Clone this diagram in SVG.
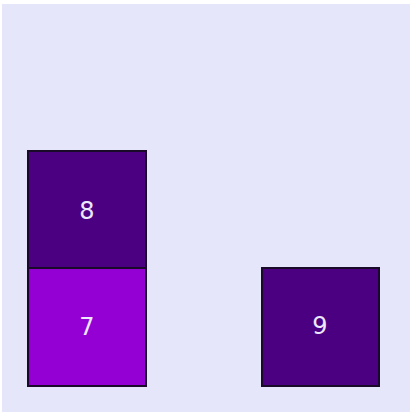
<svg xmlns="http://www.w3.org/2000/svg" width="410" height="412" viewBox="0 0 410 412">
<style>
.box{stroke:#1a0a2a;stroke-width:2}
.lbl{font-family:"DejaVu Sans",sans-serif;font-size:24px;fill:#ece8ff;text-anchor:middle}
</style>
<rect x="0" y="0" width="410" height="412" fill="#ffffff"/>
<rect x="2" y="4" width="408" height="408" fill="#e6e6fa"/>
<g id="node8"><rect class="box" x="28" y="151" width="118" height="117" fill="#4b0082"/><text class="lbl" x="87" y="219">8</text></g>
<g id="node7"><rect class="box" x="28" y="268" width="118" height="118" fill="#9400d3"/><text class="lbl" x="87" y="335">7</text></g>
<g id="node9"><rect class="box" x="262" y="268" width="117" height="118" fill="#4b0082"/><text class="lbl" x="320" y="334">9</text></g>
<g id="connectors"></g>
</svg>
